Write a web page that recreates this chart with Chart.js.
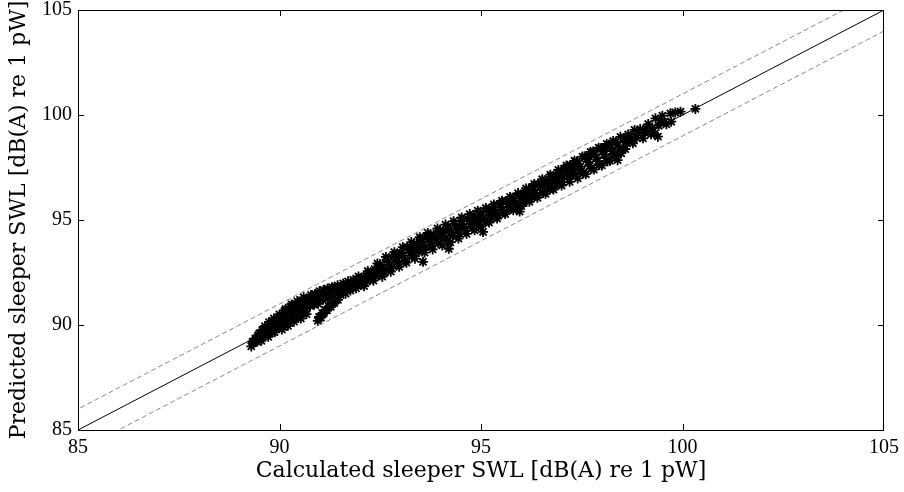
<!DOCTYPE html>
<html><head><meta charset="utf-8">
<script src="https://cdn.jsdelivr.net/npm/chart.js@4/dist/chart.umd.min.js"></script>
<style>html,body{margin:0;padding:0;background:#fff}#wrap{width:904px;height:492px}</style>
</head><body><div id="wrap"><canvas id="c" width="904" height="492"></canvas></div>
<script>
// Calculated sleeper SWL (x) and predicted sleeper SWL (y), dB(A) re 1 pW
const calcSWL = [
89.30,89.36,89.40,89.45,89.50,89.52,89.57,89.60,89.64,89.68,89.70,89.74,89.78,89.80,89.83,89.86,89.90,89.93,89.96,
90.00,90.02,90.05,90.08,90.10,90.13,90.16,90.19,90.22,90.25,90.28,90.31,90.34,90.37,90.40,90.42,90.45,90.48,90.51,
90.55,90.58,90.61,90.64,90.67,90.70,90.73,90.76,90.80,90.83,90.86,90.90,90.93,90.96,
90.95,90.98,91.03,91.06,91.10,91.14,91.18,91.22,91.27,91.31,91.36,91.40,91.45,
91.00,91.04,91.08,91.12,91.16,91.20,91.24,91.28,91.33,91.38,91.42,91.48,91.52,91.55,91.60,91.64,91.68,91.72,91.76,
91.80,91.85,91.90,91.94,91.98,92.03,92.08,92.12,92.17,92.22,92.27,92.31,92.36,92.40,92.45,92.49,92.53,92.57,92.61,
92.66,92.70,92.74,92.78,92.83,92.87,92.91,92.95,93.00,93.04,93.08,93.12,93.17,93.21,93.25,93.29,93.34,93.38,93.42,
93.46,93.50,93.54,93.56,93.58,93.62,93.66,93.70,93.74,93.78,93.82,93.86,93.90,93.94,93.98,94.02,94.06,94.10,94.14,
94.18,94.20,94.22,94.26,94.30,94.34,94.38,94.42,94.46,94.50,94.54,94.58,94.62,94.66,94.70,94.74,94.78,94.82,94.86,
94.90,94.94,94.98,95.02,95.05,95.06,95.10,95.14,95.18,95.22,95.26,95.30,95.34,95.38,95.42,95.46,95.50,95.54,95.58,
95.62,95.66,95.70,95.74,95.78,95.82,95.86,95.90,95.96,95.94,95.98,96.02,96.06,96.10,96.14,96.18,96.22,96.26,96.30,
96.34,96.38,96.42,96.46,96.50,96.54,96.58,96.62,96.66,96.70,96.74,96.78,96.82,96.86,96.90,96.94,96.98,97.02,97.06,
97.10,97.14,97.18,97.22,97.26,97.30,97.34,97.38,97.42,97.46,97.50,97.54,97.58,97.62,97.66,97.70,97.74,97.78,97.82,
97.86,97.90,97.94,97.98,98.02,98.06,98.10,98.14,98.18,98.22,98.26,98.30,98.34,98.39,98.40,98.44,98.48,98.52,98.55,
98.60,98.65,98.69,98.77,98.81,98.95,99.02,99.10,99.22,99.25,99.33,99.39,99.41,99.50,99.60,99.70,99.72,99.95,100.32,
89.33,89.47,89.55,89.62,89.72,89.81,89.88,89.98,90.06,90.15,90.21,90.30,90.36,90.44,90.53,90.60,90.68,90.78,90.88,
90.99,91.09,91.19,91.30,91.44,91.58,91.70,91.83,91.96,92.10,92.19,92.33,92.43,92.55,92.64,92.76,92.85,92.97,93.06,
93.15,93.27,93.36,93.48,93.60,93.68,93.80,93.92,94.04,94.12,94.24,94.32,94.44,94.52,94.64,94.72,94.84,94.92,
95.00,95.12,95.20,95.32,95.40,95.52,95.60,95.72,95.80,95.92,96.00,96.12,96.20,96.32,96.40,96.52,96.60,96.72,96.80,
96.92,97.00,97.12,97.20,97.32,97.40,97.52,97.60,97.72,97.80,97.92,98.00,98.12,98.20,98.28,98.36,98.46,98.58,98.62,
98.72,98.86,98.90,99.06,99.15,99.30,99.45,99.55,99.82,
90.12,90.47,90.82,91.26,91.62,92.05,92.52,92.93,93.32,93.72,94.08,94.48,94.88,95.28,95.68,96.08,96.48,96.88,97.28,
97.68,98.08
];
const predSWL = [
88.98,89.16,89.35,89.20,89.60,89.37,89.77,89.55,89.94,89.78,89.55,90.14,89.98,89.80,89.65,90.31,90.18,90.03,89.86,
90.50,90.34,90.20,90.03,89.90,90.68,90.54,90.39,90.24,90.10,90.88,90.76,90.59,90.45,90.28,90.97,90.80,90.63,90.46,
91.15,90.98,90.81,90.64,90.52,91.25,91.08,90.91,91.30,91.13,90.96,91.35,91.18,91.01,
90.20,90.38,90.35,90.56,90.55,90.72,90.70,90.87,90.87,91.03,91.04,91.20,91.20,
91.50,91.34,91.20,91.57,91.41,91.25,91.64,91.48,91.75,91.53,91.72,91.58,91.42,91.85,91.72,91.49,91.93,91.77,91.64,
92.00,91.85,91.75,92.12,92.00,91.91,92.28,92.17,92.07,92.47,92.35,92.21,92.66,92.52,92.37,92.89,92.75,92.62,92.49,
93.11,92.98,92.84,92.70,93.33,93.17,93.03,92.90,93.45,93.32,93.18,93.04,93.69,93.56,93.43,93.29,93.89,93.76,93.62,
93.48,94.10,93.96,93.01,93.83,93.70,94.21,94.08,93.94,93.78,94.32,94.18,94.05,93.89,94.53,94.40,94.26,94.12,93.99,
94.68,93.63,94.54,94.41,94.25,94.82,94.68,94.54,94.36,94.95,94.82,94.68,94.50,95.08,94.95,94.82,94.63,95.22,95.08,
94.95,94.76,95.36,95.22,94.43,95.08,94.90,95.49,95.36,95.22,95.08,95.62,95.49,95.36,95.22,95.76,95.62,95.49,95.36,
95.90,95.76,95.62,95.52,96.06,95.92,95.78,95.68,95.40,96.19,96.06,95.92,95.81,96.38,96.24,96.10,96.00,96.56,96.42,
96.29,96.16,96.70,96.56,96.42,96.29,96.88,96.74,96.61,96.45,97.06,96.93,96.80,96.64,97.25,97.12,96.98,96.82,97.44,
97.30,97.16,96.96,97.62,97.48,97.35,97.16,97.80,97.67,97.54,97.35,97.22,98.03,97.90,97.76,97.58,97.44,98.26,98.12,
97.98,97.80,97.62,98.43,98.27,98.11,97.95,97.79,98.60,98.44,98.28,98.10,98.72,97.85,98.55,98.36,98.18,98.41,98.90,
98.75,99.07,98.97,98.65,99.29,99.33,98.89,99.37,99.08,99.40,99.84,98.97,99.49,99.97,99.56,100.08,99.68,100.16,100.29,
89.21,89.52,89.25,89.80,89.44,90.13,89.66,90.38,89.78,90.77,89.96,90.98,90.16,91.14,90.31,91.32,91.13,91.43,91.48,
91.61,91.67,91.74,91.80,91.89,91.98,92.08,92.16,92.31,91.85,92.57,92.11,92.93,92.30,93.24,92.54,93.47,92.77,93.71,
92.97,93.95,93.16,94.18,93.45,94.38,93.60,94.60,93.79,94.78,93.94,94.94,94.12,95.12,94.34,95.28,94.51,95.44,
94.67,95.57,94.88,95.74,95.07,95.92,95.28,96.10,95.47,96.28,95.66,96.50,95.87,96.72,96.06,96.94,96.25,97.16,96.45,
97.38,96.64,97.60,96.82,97.82,96.98,98.02,97.18,98.24,97.40,98.44,97.60,98.62,97.82,98.76,98.06,98.96,98.38,98.67,
98.84,98.91,99.12,99.16,99.57,99.10,99.75,99.67,100.12,
90.22,90.72,91.02,91.56,91.67,92.13,92.67,93.18,93.62,94.17,94.38,94.68,95.00,95.33,95.88,96.08,96.68,96.98,97.23,
98.03,98.43
];
const axisMin = 85, axisMax = 105;
const tickValues = [85, 90, 95, 100, 105];
const tolerance = 1; // dB band for dashed lines
const xTitle = 'Calculated sleeper SWL [dB(A) re 1 pW]';
const yTitle = 'Predicted sleeper SWL [dB(A) re 1 pW]';

const points = calcSWL.map((x, i) => ({x: x, y: predSWL[i]}));
const identity = [{x: axisMin, y: axisMin}, {x: axisMax, y: axisMax}];
const upper = [{x: axisMin - tolerance, y: axisMin}, {x: axisMax, y: axisMax + tolerance}];
const lower = [{x: axisMin, y: axisMin - tolerance}, {x: axisMax + tolerance, y: axisMax}];

const innerTicks = {
  id: 'innerTicks',
  afterDraw(chart) {
    const {ctx, chartArea: a, scales: {x, y}} = chart;
    ctx.save();
    ctx.strokeStyle = '#000';
    ctx.lineWidth = 1;
    ctx.beginPath();
    tickValues.forEach(v => {
      if (v <= axisMin || v >= axisMax) return;
      const px = Math.round(x.getPixelForValue(v)) + 0.5;
      ctx.moveTo(px, a.bottom); ctx.lineTo(px, a.bottom - 6);
      ctx.moveTo(px, a.top); ctx.lineTo(px, a.top + 6);
      const py = Math.round(y.getPixelForValue(v)) + 0.5;
      ctx.moveTo(a.left, py); ctx.lineTo(a.left + 6, py);
      ctx.moveTo(a.right, py); ctx.lineTo(a.right - 6, py);
    });
    ctx.stroke();
    ctx.strokeRect(a.left + 0.5, a.top + 0.5, a.right - a.left - 1, a.bottom - a.top);
    ctx.restore();
  }
};

const xTickFont = {family: 'Liberation Serif', size: 20, lineHeight: 1.8};
const yTickFont = {family: 'Liberation Serif', size: 20, lineHeight: 0.4};
const titleFont = {family: 'DejaVu Serif', size: 22, lineHeight: 1.2};

new Chart(document.getElementById('c'), {
  type: 'scatter',
  data: {
    datasets: [
      {data: points, pointStyle: 'star', pointRadius: 5, borderColor: '#000', backgroundColor: '#000', borderWidth: 1.8, order: 2},
      {data: identity, showLine: true, borderColor: '#000', borderWidth: 1, pointRadius: 0, order: 1},
      {data: upper, showLine: true, borderColor: '#888', borderWidth: 1, borderDash: [5, 3], pointRadius: 0, order: 1},
      {data: lower, showLine: true, borderColor: '#888', borderWidth: 1, borderDash: [5, 3], pointRadius: 0, order: 1}
    ]
  },
  options: {
    responsive: false,
    animation: false,
    devicePixelRatio: 1,
    layout: {padding: {left: 0, top: 10, right: 20, bottom: 0}},
    plugins: {legend: {display: false}, tooltip: {enabled: false}},
    scales: {
      x: {
        type: 'linear', min: axisMin, max: axisMax,
        afterBuildTicks: s => { s.ticks = tickValues.map(v => ({value: v})); },
        afterFit: s => { s.height = 62; },
        grid: {display: false, drawTicks: false},
        border: {display: false},
        ticks: {font: xTickFont, color: '#000', padding: 0, maxRotation: 0, callback: v => String(v)},
        title: {display: true, text: xTitle, font: titleFont, color: '#000', padding: {top: 0, bottom: 8}}
      },
      y: {
        type: 'linear', min: axisMin, max: axisMax,
        afterBuildTicks: s => { s.ticks = tickValues.map(v => ({value: v})); },
        afterFit: s => { s.width = 78; },
        grid: {display: false, drawTicks: false},
        border: {display: false},
        ticks: {font: yTickFont, color: '#000', padding: 6, callback: v => String(v)},
        title: {display: true, text: yTitle, font: titleFont, color: '#000', padding: {top: 6, bottom: 0}}
      }
    }
  },
  plugins: [innerTicks]
});
</script>
</body></html>
